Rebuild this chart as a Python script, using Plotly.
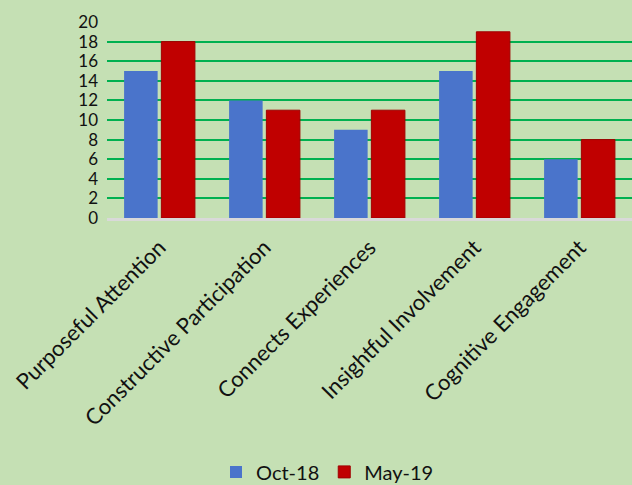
import plotly.graph_objects as go

categories = ["Purposeful Attention", "Constructive Participation", "Connects Experiences",
              "Insightful Involvement", "Cognitive Engagement"]
oct18 = [15, 12, 9, 15, 6]
may19 = [18, 11, 11, 19, 8]
y_ticks = list(range(0, 21, 2))

fig = go.Figure()
fig.add_trace(go.Bar(x=categories, y=oct18, name="Oct-18",
                     marker=dict(color="#4a74cb", line=dict(width=0))))
fig.add_trace(go.Bar(x=categories, y=may19, name="May-19",
                     marker=dict(color="#c00000", line=dict(color="#a00000", width=1))))

fig.update_layout(
    width=632, height=485,
    paper_bgcolor="#c5e0b4", plot_bgcolor="#c5e0b4",
    margin=dict(l=107, r=0, t=22, b=267),
    barmode="group", bargap=0.29, bargroupgap=0.1,
    font=dict(family="Lato, Open Sans, sans-serif", size=17, color="#111111"),
    legend=dict(orientation="h", x=0.42, xanchor="center", y=0.027, yanchor="middle",
                yref="container", font=dict(size=20), traceorder="normal"),
    showlegend=True,
)
fig.update_yaxes(range=[0, 20], tickvals=y_ticks, showgrid=True, gridcolor="#00b050",
                 gridwidth=2, zeroline=False, ticks="", tickfont=dict(size=17),
                 ticklabelstandoff=8, showline=False)
fig.update_xaxes(tickangle=-45, showline=True, linecolor="#d9d9d9", linewidth=3,
                 ticks="", tickfont=dict(size=22), ticklabelstandoff=5)

fig.write_html("out.html", config={"displayModeBar": False},
               post_script="document.body.style.margin='0';")
